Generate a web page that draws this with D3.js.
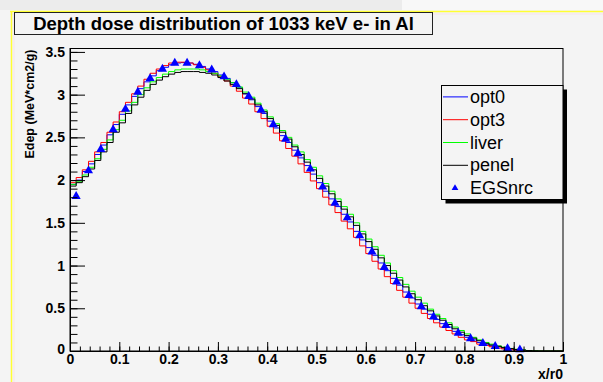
<!DOCTYPE html>
<html>
<head>
<meta charset="utf-8">
<script src="https://cdn.jsdelivr.net/npm/d3@7"></script>
<style>
  html, body { margin: 0; padding: 0; background: #f4f4f4; }
  svg { display: block; font-family: "Liberation Sans", Arial, Helvetica, sans-serif; }
</style>
</head>
<body>
<svg id="chart" width="603" height="382"></svg>
<script>
// --- data ---
const binWidth = 0.0125; // 80 bins from 0 to 1

const opt0 = [
  1.95, 2.00, 2.10, 2.19, 2.30, 2.41, 2.53, 2.65, 2.77, 2.88,
  2.98, 3.07, 3.15, 3.22, 3.28, 3.32, 3.35, 3.37, 3.375, 3.37,
  3.355, 3.33, 3.30, 3.27, 3.23, 3.19, 3.14, 3.08, 3.01, 2.94,
  2.86, 2.78, 2.69, 2.61, 2.52, 2.44, 2.35, 2.26, 2.17, 2.07,
  1.97, 1.87, 1.78, 1.69, 1.60, 1.51, 1.40, 1.30, 1.21, 1.12,
  1.03, 0.94, 0.85, 0.77, 0.69, 0.62, 0.55, 0.49, 0.43, 0.37,
  0.32, 0.28, 0.23, 0.19, 0.16, 0.13, 0.10, 0.08, 0.06, 0.05,
  0.035, 0.025, 0.015, 0.01, 0.005, 0, 0, 0, 0, 0
];
const opt3 = [
  1.97, 2.03, 2.12, 2.22, 2.33, 2.44, 2.56, 2.68, 2.80, 2.91,
  3.01, 3.10, 3.18, 3.25, 3.30, 3.34, 3.37, 3.38, 3.38, 3.37,
  3.35, 3.32, 3.29, 3.25, 3.21, 3.16, 3.10, 3.04, 2.96, 2.89,
  2.80, 2.72, 2.63, 2.55, 2.46, 2.37, 2.28, 2.19, 2.09, 1.99,
  1.90, 1.80, 1.71, 1.62, 1.52, 1.43, 1.33, 1.23, 1.14, 1.05,
  0.96, 0.87, 0.79, 0.71, 0.63, 0.56, 0.50, 0.44, 0.38, 0.33,
  0.28, 0.24, 0.20, 0.16, 0.13, 0.11, 0.08, 0.065, 0.05, 0.035,
  0.025, 0.015, 0.01, 0.005, 0.003, 0, 0, 0, 0, 0
];
const liver = [
  1.95, 1.98, 2.06, 2.15, 2.25, 2.36, 2.47, 2.59, 2.70, 2.81,
  2.91, 3.00, 3.08, 3.15, 3.20, 3.24, 3.27, 3.29, 3.30, 3.30,
  3.30, 3.29, 3.27, 3.25, 3.22, 3.18, 3.14, 3.09, 3.03, 2.97,
  2.90, 2.82, 2.74, 2.66, 2.58, 2.50, 2.41, 2.33, 2.24, 2.15,
  2.05, 1.96, 1.87, 1.78, 1.69, 1.60, 1.50, 1.40, 1.31, 1.22,
  1.12, 1.03, 0.94, 0.86, 0.78, 0.70, 0.63, 0.56, 0.49, 0.43,
  0.38, 0.33, 0.28, 0.24, 0.20, 0.16, 0.13, 0.10, 0.08, 0.06,
  0.045, 0.03, 0.02, 0.012, 0.006, 0.003, 0, 0, 0, 0
];
const penel = [
  1.93, 1.97, 2.04, 2.13, 2.23, 2.33, 2.44, 2.56, 2.67, 2.78,
  2.88, 2.97, 3.05, 3.12, 3.17, 3.21, 3.24, 3.26, 3.27, 3.27,
  3.27, 3.26, 3.25, 3.23, 3.20, 3.16, 3.12, 3.07, 3.01, 2.95,
  2.88, 2.80, 2.72, 2.64, 2.56, 2.48, 2.39, 2.30, 2.21, 2.12,
  2.02, 1.93, 1.84, 1.75, 1.66, 1.57, 1.47, 1.37, 1.28, 1.19,
  1.09, 1.00, 0.91, 0.83, 0.75, 0.67, 0.60, 0.53, 0.47, 0.41,
  0.36, 0.31, 0.26, 0.22, 0.18, 0.15, 0.12, 0.09, 0.07, 0.055,
  0.04, 0.028, 0.018, 0.01, 0.005, 0.002, 0, 0, 0, 0
];

// EGSnrc points
const egsX = [
  0.0125, 0.0375, 0.0625, 0.0875, 0.1125, 0.1375, 0.1625, 0.1875, 0.2125, 0.2375,
  0.2625, 0.2875, 0.3125, 0.3375, 0.3625, 0.3875, 0.4125, 0.4375, 0.4625, 0.4875,
  0.5125, 0.5375, 0.5625, 0.5875, 0.6125, 0.6375, 0.6625, 0.6875, 0.7125, 0.7375,
  0.7625, 0.7875, 0.8125, 0.8375, 0.8625, 0.8875, 0.9125
];
const egsY = [
  1.81, 2.11, 2.36, 2.59, 2.83, 3.03, 3.19, 3.30, 3.37, 3.37,
  3.34, 3.29, 3.21, 3.12, 2.98, 2.82, 2.65, 2.48, 2.31, 2.13,
  1.92, 1.73, 1.56, 1.35, 1.16, 0.98, 0.81, 0.65, 0.52, 0.40,
  0.30, 0.21, 0.145, 0.09, 0.055, 0.03, 0.015
];

const seriesNames = ['opt0', 'opt3', 'liver', 'penel'];
const seriesData = [opt0, opt3, liver, penel];
const seriesColors = ['#0000ff', '#ff0000', '#00ff00', '#000000'];

const xTicks = [0, 0.1, 0.2, 0.3, 0.4, 0.5, 0.6, 0.7, 0.8, 0.9, 1];
const yTicks = [0, 0.5, 1, 1.5, 2, 2.5, 3, 3.5];

const titleText = 'Depth dose distribution of 1033 keV e- in Al';
const xTitle = 'x/r0';
const yTitle = 'Edep (MeV*cm2/g)';

// --- layout ---
const FRAME = { left: 70, right: 563, top: 48.5, bottom: 351 };
const FONT_BOLD = 'bold';

const svg = d3.select('#chart');

const x = d3.scaleLinear().domain([0, 1]).range([FRAME.left, FRAME.right]);
const y = d3.scaleLinear().domain([0, 3.54]).range([FRAME.bottom, FRAME.top]);

// canvas background & yellow border
svg.append('rect').attr('x', 0).attr('y', 0).attr('width', 603).attr('height', 382).attr('fill', '#f4f4f4');
svg.append('rect').attr('x', 0).attr('y', 0).attr('width', 402).attr('height', 10).attr('fill', '#ececec');
svg.append('rect').attr('x', 402).attr('y', 0).attr('width', 201).attr('height', 10).attr('fill', '#f8f8f8');
svg.append('line').attr('x1', 10).attr('x2', 603).attr('y1', 11.5).attr('y2', 11.5)
  .attr('stroke', '#ffff33').attr('stroke-width', 1.5);
svg.append('line').attr('x1', 10).attr('x2', 603).attr('y1', 14).attr('y2', 14)
  .attr('stroke', '#f6e8f0').attr('stroke-width', 1.5);
svg.append('line').attr('x1', 11.5).attr('x2', 11.5).attr('y1', 11).attr('y2', 382)
  .attr('stroke', '#ffff33').attr('stroke-width', 1.5);
svg.append('line').attr('x1', 14).attr('x2', 14).attr('y1', 14).attr('y2', 382)
  .attr('stroke', '#f6e8f0').attr('stroke-width', 1.5);

// title box
svg.append('rect').attr('x', 14.5).attr('y', 12.5).attr('width', 418).attr('height', 22)
  .attr('fill', '#f4f4f4').attr('stroke', '#222').attr('stroke-width', 1);
svg.append('text').attr('x', 223.5).attr('y', 29.5).attr('text-anchor', 'middle')
  .attr('font-size', 18.5).attr('font-weight', FONT_BOLD).attr('fill', '#000')
  .text(titleText);

// histograms (step lines)
const stepLine = d3.line()
  .x(d => x(d[0]))
  .y(d => y(d[1]))
  .curve(d3.curveStepAfter);

seriesData.forEach((vals, k) => {
  const pts = vals.map((v, i) => [i * binWidth, v]);
  pts.push([1, vals[vals.length - 1]]);
  svg.append('path')
    .attr('d', stepLine(pts))
    .attr('fill', 'none')
    .attr('stroke', seriesColors[k])
    .attr('stroke-width', 1);
});

// EGSnrc markers
const tri = d3.symbol().type(d3.symbolTriangle).size(36);
svg.append('g').selectAll('path')
  .data(egsX.map((v, i) => [v, egsY[i]]))
  .join('path')
  .attr('d', tri)
  .attr('transform', d => `translate(${x(d[0])},${y(d[1])})`)
  .attr('fill', '#0000ff');

// frame
svg.append('rect')
  .attr('x', FRAME.left).attr('y', FRAME.top)
  .attr('width', FRAME.right - FRAME.left).attr('height', FRAME.bottom - FRAME.top)
  .attr('fill', 'none').attr('stroke', '#000').attr('stroke-width', 1);

// axes (ticks inside the frame, like ROOT)
const xMinor = d3.range(0, 51).map(i => i * 0.02);
const yMinor = d3.range(0, 36).map(i => i * 0.1);

const xAxisMinor = svg.append('g').attr('transform', `translate(0,${FRAME.bottom})`)
  .call(d3.axisBottom(x).tickValues(xMinor).tickSizeInner(-4.5).tickSizeOuter(0).tickFormat(''));
const xAxis = svg.append('g').attr('transform', `translate(0,${FRAME.bottom})`)
  .call(d3.axisBottom(x).tickValues(xTicks).tickSizeInner(-9).tickSizeOuter(0).tickPadding(3)
    .tickFormat(d3.format('')));
const yAxisMinor = svg.append('g').attr('transform', `translate(${FRAME.left},0)`)
  .call(d3.axisLeft(y).tickValues(yMinor).tickSizeInner(-7.5).tickSizeOuter(0).tickFormat(''));
const yAxis = svg.append('g').attr('transform', `translate(${FRAME.left},0)`)
  .call(d3.axisLeft(y).tickValues(yTicks).tickSizeInner(-15).tickSizeOuter(0).tickPadding(5)
    .tickFormat(d3.format('')));

[xAxisMinor, xAxis, yAxisMinor, yAxis].forEach(g => {
  g.select('.domain').attr('stroke', '#000');
  g.selectAll('.tick line').attr('stroke', '#000');
  g.selectAll('text')
    .attr('font-family', '"Liberation Sans", Arial, Helvetica, sans-serif')
    .attr('font-size', 14).attr('font-weight', FONT_BOLD).attr('fill', '#000');
});
// ROOT puts the y "0" a bit lower
yAxis.selectAll('.tick').filter(d => d === 0).select('text').attr('dy', '0.15em');

// axis titles
svg.append('text').attr('x', FRAME.right).attr('y', 379).attr('text-anchor', 'end')
  .attr('font-size', 14).attr('font-weight', FONT_BOLD).text(xTitle);
svg.append('text').attr('transform', `translate(34,${FRAME.top + 1}) rotate(-90)`)
  .attr('text-anchor', 'end').attr('font-size', 12.5).attr('font-weight', FONT_BOLD)
  .text(yTitle);

// legend
const LEG = { x: 441.5, y: 85.5, w: 121.5, h: 114 };
svg.append('rect').attr('x', LEG.x + 4).attr('y', LEG.y + 4).attr('width', LEG.w).attr('height', LEG.h)
  .attr('fill', '#000');
svg.append('rect').attr('x', LEG.x).attr('y', LEG.y).attr('width', LEG.w).attr('height', LEG.h)
  .attr('fill', '#f4f4f4').attr('stroke', '#000').attr('stroke-width', 1);

const legendNames = seriesNames.concat(['EGSnrc']);
const rowH = LEG.h / legendNames.length;
legendNames.forEach((name, i) => {
  const cy = LEG.y + rowH * (i + 0.5);
  if (i < seriesNames.length) {
    svg.append('line').attr('x1', 443).attr('x2', 468).attr('y1', cy).attr('y2', cy)
      .attr('stroke', seriesColors[i]).attr('stroke-width', 1);
  } else {
    svg.append('path').attr('d', d3.symbol().type(d3.symbolTriangle).size(20)())
      .attr('transform', `translate(455,${cy})`).attr('fill', '#0000ff');
  }
  svg.append('text').attr('x', 470).attr('y', cy + 6)
    .attr('font-size', 18).attr('fill', '#000').text(name);
});
</script>
</body>
</html>
